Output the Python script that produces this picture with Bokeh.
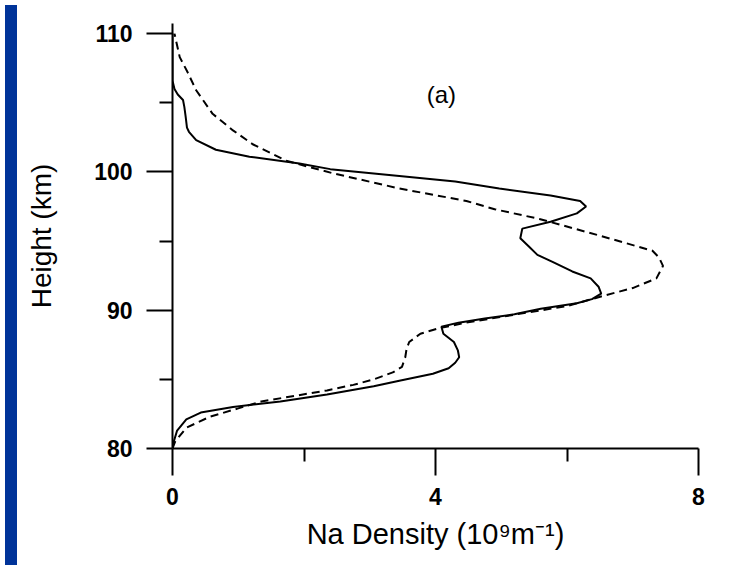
from bokeh.plotting import figure
from bokeh.models import FixedTicker, Label, Div
from bokeh.layouts import row
from bokeh.embed import file_html
from bokeh.resources import INLINE

# Solid profile (height km, Na density 1e9 m^-1)
heights_solid = [80.0, 80.5, 81.3, 82.1, 82.6, 83.0, 83.4, 83.9, 84.5, 84.9, 85.4, 85.8,
                 86.2, 86.6, 87.1, 87.7, 88.3, 88.8, 89.1, 89.4, 89.7, 90.1, 90.5, 90.8,
                 91.2, 91.7, 92.3, 92.8, 93.5, 94.0, 94.6, 95.2, 95.9, 96.4, 97.0, 97.5,
                 97.9, 98.3, 98.8, 99.3, 99.7, 100.2, 100.6, 101.1, 101.6, 102.3, 102.9,
                 103.2, 104.0, 104.7, 105.2, 105.6, 106.0, 106.6, 110.0]
density_solid = [0.0, 0.02, 0.07, 0.21, 0.43, 0.92, 1.64, 2.35, 3.06, 3.45, 3.96, 4.2,
                 4.30, 4.36, 4.34, 4.28, 4.12, 4.09, 4.35, 4.75, 5.2, 5.6, 6.15, 6.38,
                 6.52, 6.48, 6.36, 6.08, 5.78, 5.55, 5.42, 5.29, 5.32, 5.75, 6.15, 6.29,
                 6.2, 5.75, 4.97, 4.3, 3.45, 2.4, 1.93, 1.17, 0.66, 0.36, 0.25,
                 0.22, 0.20, 0.18, 0.16, 0.08, 0.03, 0.0, 0.0]

# Dashed profile
heights_dashed = [80.0, 80.5, 81.5, 82.3, 82.9, 83.4, 84.2, 84.6, 85.0, 85.5, 85.9, 86.6,
                  87.2, 87.7, 88.3, 88.7, 89.1, 89.7, 90.3, 90.7, 91.1, 91.6, 92.3, 93.2,
                  93.8, 94.3, 95.4, 96.6, 97.3, 97.9, 98.8, 99.9, 100.8, 102.0, 103.0,
                  104.2, 105.9, 107.2, 108.3, 110.0]
density_dashed = [0.0, 0.04, 0.21, 0.57, 1.0, 1.35, 2.35, 2.75, 3.06, 3.35, 3.49, 3.54,
                  3.56, 3.60, 3.77, 4.05, 4.47, 5.23, 6.0, 6.3, 6.6, 7.0, 7.36, 7.46,
                  7.4, 7.3, 6.49, 5.58, 4.9, 4.47, 3.45, 2.44, 1.73, 1.22, 0.92,
                  0.61, 0.36, 0.23, 0.11, 0.03]

x_ticks = [0, 4, 8]
x_minor_ticks = [2, 6]
y_ticks = [80, 90, 100, 110]
y_minor_ticks = [85, 95, 105]

FONT = "Liberation Sans"

p = figure(width=704, height=560, x_range=(0, 8), y_range=(80, 110.73),
           output_backend="svg", toolbar_location=None,
           min_border_left=150, min_border_right=28, min_border_top=23, min_border_bottom=112)
p.xgrid.visible = False
p.ygrid.visible = False
p.outline_line_color = None
p.background_fill_color = "white"
p.border_fill_color = "white"

p.line(density_solid, heights_solid, line_color="black", line_width=2)
p.line(density_dashed, heights_dashed, line_color="black", line_width=2, line_dash="8 5")

for ax, ticks, minor, tout in ((p.xaxis, x_ticks, x_minor_ticks, 27), (p.yaxis, y_ticks, y_minor_ticks, 26)):
    ax.ticker = FixedTicker(ticks=ticks, minor_ticks=minor)
    ax.major_tick_out = tout
    ax.major_tick_in = 0
    ax.minor_tick_out = 13
    ax.minor_tick_in = 0
    ax.axis_line_width = 2
    ax.major_tick_line_width = 2
    ax.minor_tick_line_width = 2
    ax.axis_line_color = "black"
    ax.major_tick_line_color = "black"
    ax.minor_tick_line_color = "black"
    ax.major_label_text_font = FONT
    ax.major_label_text_font_size = "23px"
    ax.major_label_text_font_style = "bold"
    ax.major_label_text_color = "black"

p.xaxis.major_label_standoff = 12
p.yaxis.major_label_standoff = 14

p.xaxis.axis_label = "Na Density (10⁹m⁻¹)"
p.xaxis.axis_label_text_font = FONT
p.xaxis.axis_label_text_font_size = "29px"
p.xaxis.axis_label_text_font_style = "normal"
p.xaxis.axis_label_text_color = "black"
p.xaxis.axis_label_standoff = 10

p.yaxis.axis_label = "Height (km)"
p.yaxis.axis_label_text_font = FONT
p.yaxis.axis_label_text_font_size = "28px"
p.yaxis.axis_label_text_font_style = "normal"
p.yaxis.axis_label_text_color = "black"
p.yaxis.axis_label_standoff = 34

panel_tag = Label(x=4.09, y=105.6, text="(a)", text_align="center", text_baseline="middle",
                  text_font=FONT, text_font_size="24px", text_color="black")
p.add_layout(panel_tag)

strip = Div(width=12, height=560, styles={"background-color": "#003399"})

layout = row(strip, p)
open("out.html", "w").write(file_html(layout, INLINE))
